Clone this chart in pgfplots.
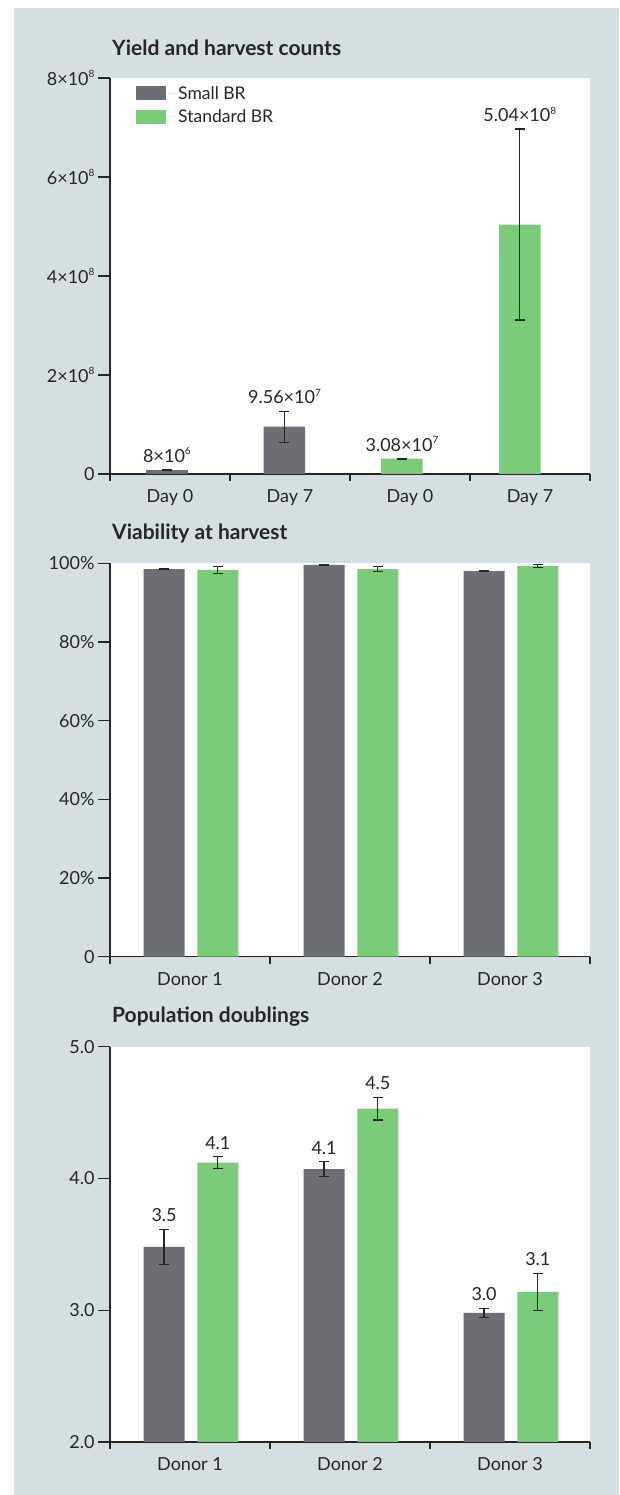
\documentclass[border=0pt]{standalone}
\usepackage{fontspec}
\setmainfont{Lato}
\usepackage{pgfplots}
\pgfplotsset{compat=1.18}
\usepackage{pgfplotstable}

\definecolor{bgpanel}{RGB}{211,223,227}
\definecolor{smallbr}{RGB}{110,111,116}
\definecolor{stdbr}{RGB}{122,204,120}
\definecolor{ink}{RGB}{38,38,38}

\newcommand\expo[1]{\raisebox{0.42em}{\fontsize{10}{10}\selectfont #1}}
\newcommand\sci[2]{#1\texttimes10\expo{#2}}
\newcommand\lblA{\sci{8}{6}}
\newcommand\lblB{\sci{9.56}{7}}
\newcommand\lblC{\sci{3.08}{7}}
\newcommand\lblD{\sci{5.04}{8}}

% Yield and harvest counts (cells)
\pgfplotstableread{
x     y       err     lab
0.475 8e6     0.8e6   \lblA
1.454 9.56e7  3.13e7  \lblB
}\yieldsmall
\pgfplotstableread{
x     y       err     lab
2.433 3.08e7  0.6e6   \lblC
3.415 5.04e8  1.93e8  \lblD
}\yieldstd

% Viability at harvest (%)
\pgfplotstableread{
x     y     err
0.338 98.5  0.10
1.338 99.6  0.10
2.338 98.0  0.15
}\viasmall
\pgfplotstableread{
x     y     err
0.674 98.3  0.80
1.674 98.5  0.60
2.674 99.3  0.30
}\viastd

% Population doublings
\pgfplotstableread{
x     y     err
0.338 3.48  0.135
1.338 4.07  0.057
2.338 2.98  0.036
}\pdsmall
\pgfplotstableread{
x     y     err
0.674 4.12  0.045
1.674 4.53  0.086
2.674 3.14  0.141
}\pdstd

\pgfplotsset{
  panel/.style={
    scale only axis, width=480pt, anchor=south west,
    axis x line*=bottom, axis y line*=left,
    axis line style={ink, line width=1.3pt, -},
    axis background/.style={fill=white},
    tick align=outside,
    major tick length=12pt, minor tick length=7pt,
    tick style={ink, line width=1.3pt},
    major x tick style={draw=none},
    ticklabel style={font=\fontsize{18}{21}\selectfont, text=ink},
    scaled y ticks=false,
  },
  bars/.style={ybar, bar shift=0pt, draw=none, fill=#1,
    legend image code/.code={\fill[#1] (0pt,-7pt) rectangle (30pt,7pt);
      \path (0pt,0pt) -- (40pt,0pt);},
    error bars/y dir=both, error bars/y explicit,
    error bars/error bar style={ink, line width=1.2pt},
    error bars/error mark options={ink, rotate=90, mark size=5pt, line width=1.2pt},
  },
  vlabels/.style={
    nodes near coords,
    visualization depends on={\thisrow{err} \as \myerr},
    every node near coord/.append style={anchor=south, inner sep=0pt, yshift=7pt,
      shift={(axis direction cs:0,\myerr)},
      font=\fontsize{18}{21}\selectfont, text=ink},
  },
}

\begin{document}
\begin{tikzpicture}
\useasboundingbox (0,0) rectangle (619pt,1495pt);
\fill[white] (0,0) rectangle (619pt,1495pt);
\fill[bgpanel] (14pt,0) rectangle (619pt,1487pt);

\begin{scope}[font=\fontsize{21}{25}\selectfont\bfseries, text=ink]
\node[anchor=base west, inner sep=0pt] at (112pt,1439pt) {Yield and harvest counts};
\node[anchor=base west, inner sep=0pt] at (112pt,955.7pt) {Viability at harvest};
\node[anchor=base west, inner sep=0pt] at (112pt,472.3pt) {Population doublings};
\end{scope}

% Yield and harvest counts
\begin{axis}[panel, at={(110pt,1021pt)}, height=396pt,
  xmin=0, xmax=4, ymin=0, ymax=8e8,
  xtick={0.5,1.5,2.5,3.5}, xticklabels={Day 0,Day 7,Day 0,Day 7},
  minor xtick={0,1,2,3,4},
  ytick={0,2e8,4e8,6e8,8e8},
  yticklabels={0,\sci{2}{8},\sci{4}{8},\sci{6}{8},\sci{8}{8}},
  legend style={at={(rel axis cs:0.048,0.99)}, anchor=north west, draw=none, fill=none,
    font=\fontsize{17.5}{20}\selectfont, text=ink, row sep=5pt},
  legend cell align=left,
]
\addplot[bars=smallbr, bar width=0.346, point meta=explicit symbolic, vlabels,
  nodes near coords={\pgfplotspointmeta}]
  table[x=x, y=y, y error=err, meta=lab] {\yieldsmall};
\addlegendentry{Small BR}
\addplot[bars=stdbr, bar width=0.346, point meta=explicit symbolic, vlabels,
  nodes near coords={\pgfplotspointmeta}]
  table[x=x, y=y, y error=err, meta=lab] {\yieldstd};
\addlegendentry{Standard BR}
\end{axis}

% Viability at harvest
\begin{axis}[panel, at={(110pt,538.3pt)}, height=393.4pt,
  xmin=0, xmax=3, ymin=0, ymax=100,
  xtick={0.5,1.5,2.5}, xticklabels={Donor 1,Donor 2,Donor 3},
  minor xtick={0,1,2,3},
  ytick={0,20,40,60,80,100},
  yticklabels={0,20\%,40\%,60\%,80\%,100\%},
]
\addplot[bars=smallbr, bar width=0.256] table[x=x, y=y, y error=err] {\viasmall};
\addplot[bars=stdbr, bar width=0.256] table[x=x, y=y, y error=err] {\viastd};
\end{axis}

% Population doublings
\begin{axis}[panel, at={(110pt,53pt)}, height=395.3pt,
  xmin=0, xmax=3, ymin=2, ymax=5,
  xtick={0.5,1.5,2.5}, xticklabels={Donor 1,Donor 2,Donor 3},
  minor xtick={0,1,2,3},
  ytick={2,3,4,5},
  yticklabels={2.0,3.0,4.0,5.0},
]
\addplot[bars=smallbr, bar width=0.256, point meta=y, vlabels,
  nodes near coords={\pgfmathprintnumber[fixed, fixed zerofill, precision=1, assume math mode=true]{\pgfplotspointmeta}}]
  table[x=x, y=y, y error=err] {\pdsmall};
\addplot[bars=stdbr, bar width=0.256, point meta=y, vlabels,
  nodes near coords={\pgfmathprintnumber[fixed, fixed zerofill, precision=1, assume math mode=true]{\pgfplotspointmeta}}]
  table[x=x, y=y, y error=err] {\pdstd};
\end{axis}
\end{tikzpicture}
\end{document}
